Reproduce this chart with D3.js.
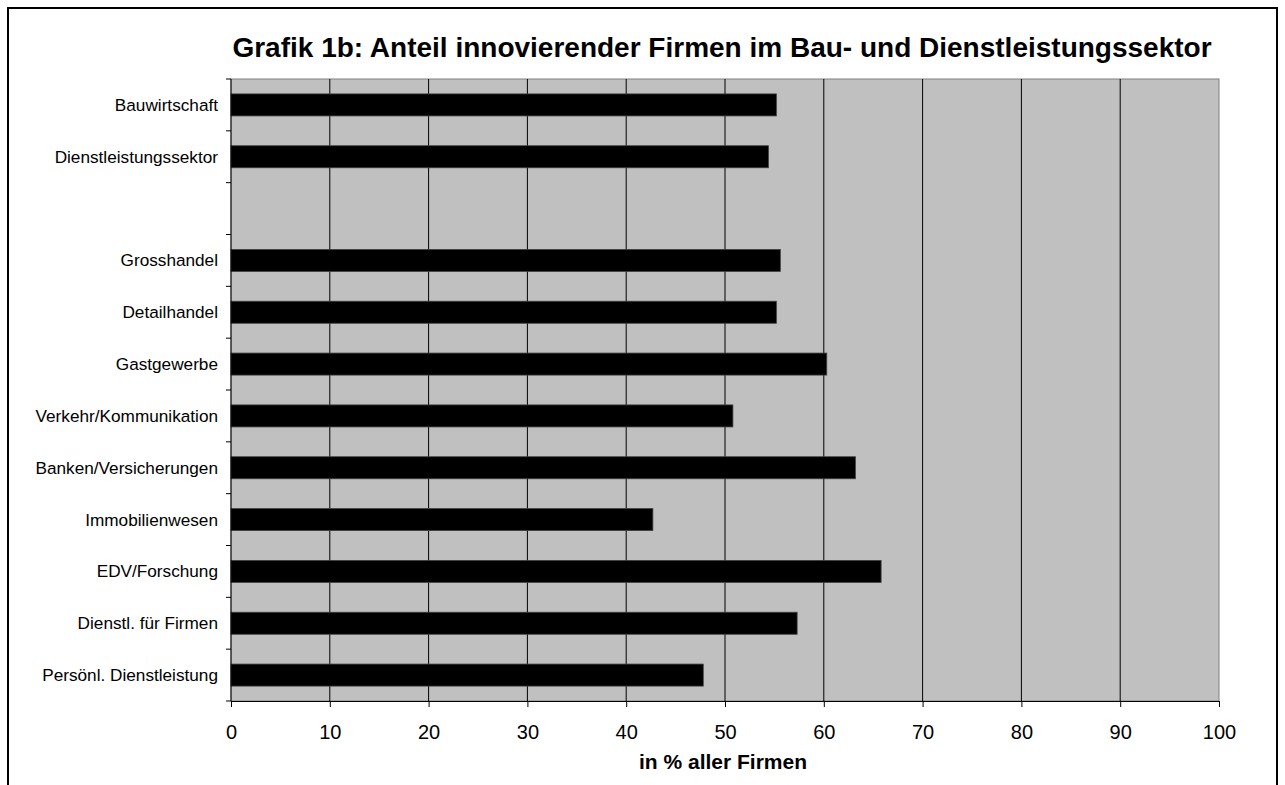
<!DOCTYPE html>
<html>
<head>
<meta charset="utf-8">
<script src="https://cdn.jsdelivr.net/npm/d3@7"></script>
<style>
  html, body { margin: 0; padding: 0; background: #fff; }
  svg { display: block; font-family: Arial, "Liberation Sans", sans-serif; }
</style>
</head>
<body>
<svg id="chart" width="1285" height="785"></svg>
<script>
// Sectors (an empty row separates the totals from the branches)
const categories = [
  "Bauwirtschaft",
  "Dienstleistungssektor",
  "",
  "Grosshandel",
  "Detailhandel",
  "Gastgewerbe",
  "Verkehr/Kommunikation",
  "Banken/Versicherungen",
  "Immobilienwesen",
  "EDV/Forschung",
  "Dienstl. für Firmen",
  "Persönl. Dienstleistung"
];
// Share of innovating firms, in %
const values = [55.2, 54.4, null, 55.6, 55.2, 60.3, 50.8, 63.2, 42.7, 65.8, 57.3, 47.8];
const xTicks = [0, 10, 20, 30, 40, 50, 60, 70, 80, 90, 100];
const titleText = "Grafik 1b: Anteil innovierender Firmen im Bau- und Dienstleistungssektor";
const xAxisTitle = "in % aller Firmen";

const svg = d3.select("#chart");
const plot = { left: 231, right: 1219, top: 79, bottom: 701 };

// outer frame
svg.append("rect")
  .attr("x", 8).attr("y", 8)
  .attr("width", 1269).attr("height", 820)
  .attr("fill", "none").attr("stroke", "#000").attr("stroke-width", 2);

const x = d3.scaleLinear().domain([0, 100]).range([plot.left, plot.right]);
const y = d3.scaleBand().domain(d3.range(categories.length)).range([plot.top, plot.bottom]).padding(0);
const barH = y.bandwidth() * 0.425;

// plot background
svg.append("rect")
  .attr("x", plot.left).attr("y", plot.top)
  .attr("width", plot.right - plot.left).attr("height", plot.bottom - plot.top)
  .attr("fill", "#c0c0c0").attr("stroke", "#808080").attr("stroke-width", 1);

// vertical gridlines
svg.append("g").selectAll("line")
  .data(xTicks.filter(t => t > 0 && t < 100))
  .join("line")
  .attr("x1", d => x(d)).attr("x2", d => x(d))
  .attr("y1", plot.top).attr("y2", plot.bottom)
  .attr("stroke", "#000").attr("stroke-width", 1);

// bars
svg.append("g").selectAll("rect")
  .data(values.map((v, i) => ({ v, i })).filter(d => d.v !== null))
  .join("rect")
  .attr("x", x(0))
  .attr("y", d => y(d.i) + (y.bandwidth() - barH) / 2)
  .attr("width", d => x(d.v) - x(0))
  .attr("height", barH)
  .attr("fill", "#000")
  .attr("stroke", "#404040").attr("stroke-width", 0.8);

// x axis
const xAxis = svg.append("g")
  .attr("transform", `translate(0,${plot.bottom})`)
  .call(d3.axisBottom(x).tickValues(xTicks).tickSize(6).tickPadding(18).tickSizeOuter(0));
xAxis.select(".domain").attr("stroke", "#000");
xAxis.selectAll(".tick line").attr("stroke", "#000");
xAxis.selectAll(".tick text")
  .attr("font-size", 20).attr("font-family", "Arial, 'Liberation Sans', sans-serif").attr("fill", "#000");

// y axis: ticks on the band boundaries
const edges = d3.range(categories.length + 1).map(i => plot.top + i * y.step());
svg.append("line")
  .attr("x1", plot.left).attr("x2", plot.left)
  .attr("y1", plot.top).attr("y2", plot.bottom)
  .attr("stroke", "#000");
svg.append("g").selectAll("line")
  .data(edges)
  .join("line")
  .attr("x1", plot.left - 5).attr("x2", plot.left)
  .attr("y1", d => d).attr("y2", d => d)
  .attr("stroke", "#000");

// category labels
svg.append("g").selectAll("text")
  .data(categories.map((c, i) => ({ c, i })))
  .join("text")
  .attr("x", 218)
  .attr("y", d => y(d.i) + y.bandwidth() / 2)
  .attr("dy", "0.35em")
  .attr("text-anchor", "end")
  .attr("font-size", 17.2)
  .attr("fill", "#000")
  .text(d => d.c);

// title
svg.append("text")
  .attr("x", (plot.left + plot.right) / 2 - 3)
  .attr("y", 57)
  .attr("text-anchor", "middle")
  .attr("font-size", 28).attr("font-weight", "bold")
  .text(titleText);

// x axis title
svg.append("text")
  .attr("x", (plot.left + plot.right) / 2 - 2)
  .attr("y", 769)
  .attr("text-anchor", "middle")
  .attr("font-size", 21).attr("font-weight", "bold")
  .text(xAxisTitle);
</script>
</body>
</html>
